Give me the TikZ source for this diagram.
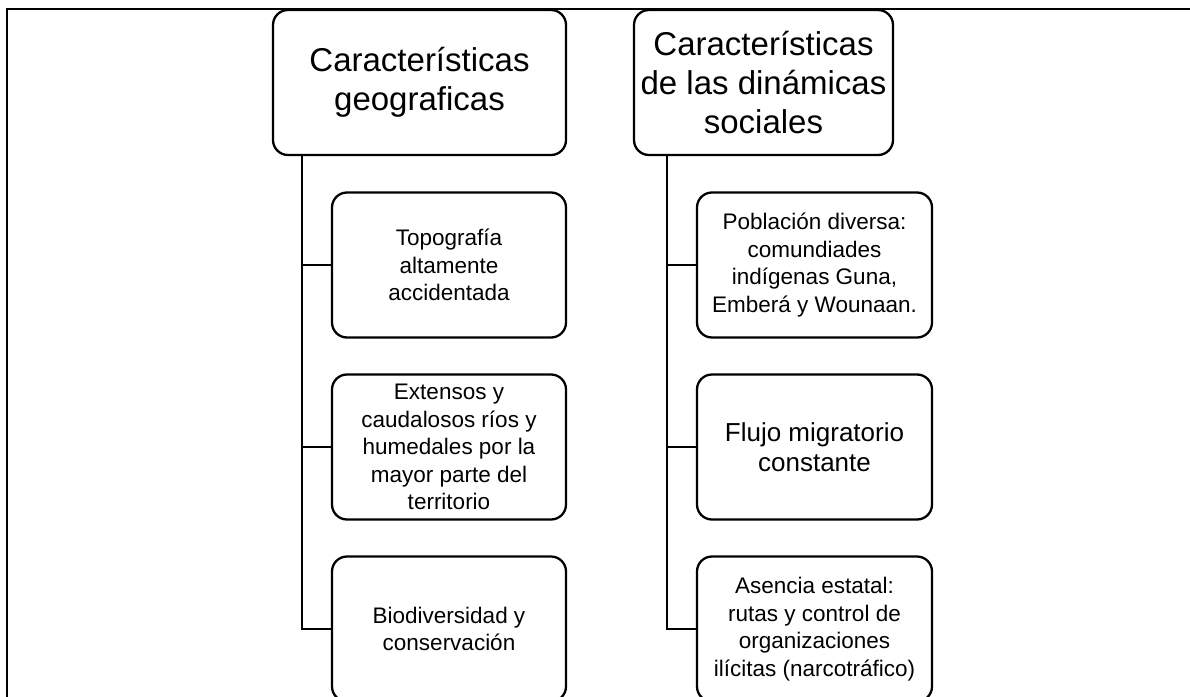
\documentclass[tikz,border=0pt]{standalone}
\usepackage{fontspec}
\setmainfont{Liberation Sans}
\begin{document}
\begin{tikzpicture}[x=1pt,y=-1pt,
  box/.style={draw=black, line width=2.3pt, rounded corners=15pt, align=center, inner sep=0pt},
  head/.style={box, minimum height=145pt, font=\fontsize{33}{39}\selectfont},
  child/.style={box, minimum height=145pt, font=\fontsize{22.5}{27.5}\selectfont},
  link/.style={line width=2.3pt}]
\clip (0,0) rectangle (1190,696);
\useasboundingbox (0,0) rectangle (1190,696);
% frame
\draw[line width=1.8pt] (7,698) -- (7,9) -- (1192,9);
% headers
\node[head, minimum width=293pt] (h1) at (419.5,82.5) {Características\\geograficas};
\node[head, minimum width=259pt] (h2) at (763.5,82.5) {Características\\de las dinámicas\\sociales};
% left children
\node[child, minimum width=234pt] (a1) at (449,265) {Topografía\\altamente\\accidentada};
\node[child, minimum width=234pt] (a2) at (449,447) {Extensos y\\caudalosos ríos y\\humedales por la\\mayor parte del\\territorio};
\node[child, minimum width=234pt] (a3) at (449,629) {Biodiversidad y\\conservación};
% right children
\node[child, minimum width=235pt] (b1) at (814.5,265) {Población diversa:\\comundiades\\indígenas Guna,\\Emberá y Wounaan.};
\node[child, minimum width=235pt, font=\fontsize{26}{30}\selectfont] (b2) at (814.5,447) {Flujo migratorio\\constante};
\node[child, minimum width=235pt] (b3) at (814.5,629) {Asencia estatal:\\rutas y control de\\organizaciones\\ilícitas (narcotráfico)};
% connectors
\coordinate (sa) at ([xshift=-29pt]a1.west |- h1.south);
\coordinate (sb) at ([xshift=-29pt]b1.west |- h2.south);
\draw[link] (sa) |- (a3.west);
\draw[link] (sa |- a1.west) -- (a1.west);
\draw[link] (sa |- a2.west) -- (a2.west);
\draw[link] (sb) |- (b3.west);
\draw[link] (sb |- b1.west) -- (b1.west);
\draw[link] (sb |- b2.west) -- (b2.west);
\end{tikzpicture}
\end{document}
